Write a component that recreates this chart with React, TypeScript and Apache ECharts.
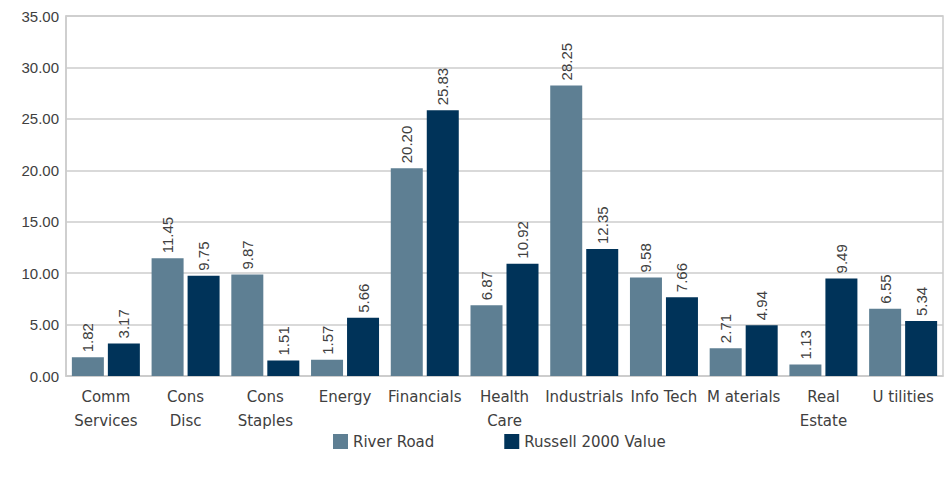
import React, { useEffect, useRef } from "react";
import * as echarts from "echarts";

const categories = [
  "Comm\nServices",
  "Cons\nDisc",
  "Cons\nStaples",
  "Energy",
  "Financials",
  "Health\nCare",
  "Industrials",
  "Info Tech",
  "M aterials",
  "Real\nEstate",
  "U tilities",
];
const riverRoad = [1.82, 11.45, 9.87, 1.57, 20.2, 6.87, 28.25, 9.58, 2.71, 1.13, 6.55];
const russell2000Value = [3.17, 9.75, 1.51, 5.66, 25.83, 10.92, 12.35, 7.66, 4.94, 9.49, 5.34];
const seriesNames = ["River Road", "Russell 2000 Value"];

const TEXT = "#404040";
const LABEL_FONT = "'Liberation Sans', Arial, sans-serif";
const CAT_FONT = "'DejaVu Sans', sans-serif";

export default function App() {
  const ref = useRef<HTMLDivElement>(null);
  useEffect(() => {
    if (!ref.current) return;
    const chart = echarts.init(ref.current, undefined, { renderer: "svg" });
    const label = {
      show: true,
      position: "top",
      rotate: 90,
      align: "left",
      verticalAlign: "middle",
      distance: 5,
      color: TEXT,
      fontSize: 15,
      fontFamily: LABEL_FONT,
      formatter: (p: any) => Number(p.value).toFixed(2),
    };
    chart.setOption({
      animation: false,
      backgroundColor: "#ffffff",
      grid: {
        left: 66,
        right: 8,
        top: 16,
        bottom: 106,
        show: true,
        borderColor: "#cccccc",
        borderWidth: 1.5,
      },
      legend: {
        data: seriesNames,
        left: 328,
        bottom: 28,
        itemWidth: 15,
        itemHeight: 15,
        itemGap: 70,
        icon: "rect",
        textStyle: { color: TEXT, fontSize: 15, fontFamily: CAT_FONT },
      },
      xAxis: {
        type: "category",
        data: categories,
        axisLine: { show: true, lineStyle: { color: "#cccccc", width: 1.5 } },
        axisTick: { show: false },
        axisLabel: {
          interval: 0,
          color: TEXT,
          fontSize: 15,
          fontFamily: CAT_FONT,
          lineHeight: 24,
          margin: 9,
        },
      },
      yAxis: {
        type: "value",
        min: 0,
        max: 35,
        interval: 5,
        axisLine: { show: true, lineStyle: { color: "#cccccc", width: 1.5 } },
        axisTick: { show: false },
        splitLine: { lineStyle: { color: "#cccccc", width: 1.5 } },
        axisLabel: {
          color: TEXT,
          fontSize: 15,
          fontFamily: LABEL_FONT,
          margin: 7,
          formatter: (v: number) => v.toFixed(2),
        },
      },
      series: [
        {
          name: seriesNames[0],
          type: "bar",
          data: riverRoad,
          itemStyle: { color: "#5e7f93" },
          barWidth: 32,
          barGap: "12.5%",
          label,
        },
        {
          name: seriesNames[1],
          type: "bar",
          data: russell2000Value,
          itemStyle: { color: "#003359" },
          barWidth: 32,
          barGap: "12.5%",
          label,
        },
      ],
    });
    return () => chart.dispose();
  }, []);
  return (
    <div
      ref={ref}
      style={{ position: "fixed", left: 0, top: 0, width: 951, height: 482 }}
    />
  );
}
